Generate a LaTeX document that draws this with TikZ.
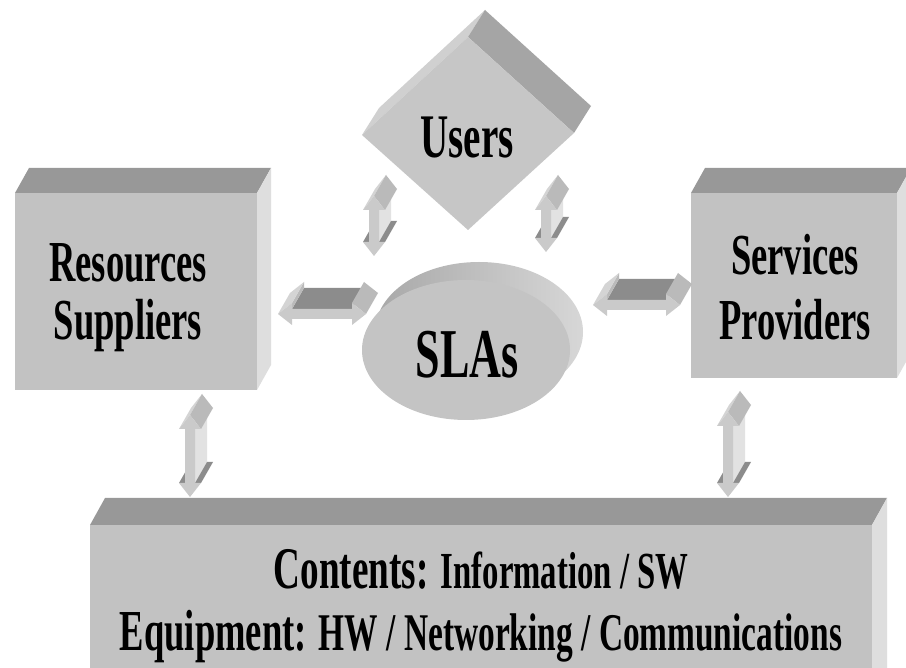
\documentclass[tikz,border=0pt]{standalone}
\usepackage{fontspec}
\newfontfamily\tnr[FakeStretch=0.63]{Liberation Serif}
\definecolor{boxfront}{RGB}{194,194,194}
\definecolor{boxtop}{RGB}{152,152,152}
\definecolor{boxside}{RGB}{222,222,222}
\definecolor{diafront}{RGB}{198,198,198}
\definecolor{diaside}{RGB}{165,165,165}
\definecolor{diatop}{RGB}{208,208,208}
\definecolor{ellfront}{RGB}{196,196,196}
\definecolor{rimL}{RGB}{168,168,168}
\definecolor{rimR}{RGB}{215,215,215}
\definecolor{arrfront}{RGB}{202,202,202}
\definecolor{arrlight}{RGB}{226,226,226}
\definecolor{arrhead}{RGB}{186,186,186}
\definecolor{arrheadL}{RGB}{212,212,212}
\definecolor{arrdark}{RGB}{140,140,140}
\tikzset{
  lab/.style={inner sep=0pt, anchor=base, text=black},
  big/.style={lab, font=\tnr\bfseries\fontsize{58}{60}\selectfont},
  pics/varrow/.style={code={
    \fill[arrdark] (-11,#1-14) -- (-5,#1-14) -- (7,#1-35) -- (1,#1-35) -- cycle;
    \fill[arrlight] (5,14) -- (5,#1-14) -- (17,#1-35) -- (17,-7) -- cycle;
    \fill[arrdark] (5,#1-14) -- (11,#1-14) -- (23,#1-35) -- (17,#1-35) -- cycle;
    \fill[arrheadL] (-11,14) -- (0,0) -- (12,-21) -- (1,-7) -- cycle;
    \fill[arrhead] (0,0) -- (11,14) -- (23,-7) -- (12,-21) -- cycle;
    \fill[arrfront] (0,0) -- (11,14) -- (5,14) -- (5,#1-14) -- (11,#1-14) -- (0,#1)
      -- (-11,#1-14) -- (-5,#1-14) -- (-5,14) -- (-11,14) -- cycle;
  }},
  pics/harrow/.style={code={
    \fill[arrdark] (14,-5) -- (#1-14,-5) -- (#1-2,-26) -- (26,-26) -- cycle;
    \fill[arrhead] (14,-11) -- (14,-5) -- (26,-26) -- (26,-32) -- cycle;
    \fill[arrheadL] (0,0) -- (14,-11) -- (26,-32) -- (12,-21) -- cycle;
    \fill[arrhead] (#1-14,-11) -- (#1,0) -- (#1+12,-21) -- (#1-2,-32) -- cycle;
    \fill[arrfront] (0,0) -- (14,-11) -- (14,-5) -- (#1-14,-5) -- (#1-14,-11) -- (#1,0)
      -- (#1-14,11) -- (#1-14,5) -- (14,5) -- (14,11) -- cycle;
  }},
}
\begin{document}
\begin{tikzpicture}[x=1pt,y=-1pt]
\clip (0,0) rectangle (906,668);
\fill[white] (0,0) rectangle (906,668);

% Resources Suppliers box
\fill[boxtop] (15,193) -- (257,193) -- (271,168) -- (29,168) -- cycle;
\fill[boxside] (257,193) -- (271,168) -- (271,365) -- (257,390) -- cycle;
\fill[boxfront] (15,193) rectangle (257,390);
\node[big] (res1) at (128,282) {Resources};
\node[big] (res2) at (128,340) {Suppliers};

% Services Providers box
\fill[boxtop] (691,193) -- (897,193) -- (911,168) -- (705,168) -- cycle;
\fill[boxside] (897,193) -- (911,168) -- (911,353) -- (897,378) -- cycle;
\fill[boxfront] (691,193) rectangle (897,378);
\node[big] (srv1) at (795,275) {Services};
\node[big] (srv2) at (795,340) {Providers};

% Bottom box
\fill[boxtop] (90,525) -- (872,525) -- (887,498) -- (105,498) -- cycle;
\fill[boxside] (872,525) -- (887,498) -- (887,700) -- (872,700) -- cycle;
\fill[boxfront] (90,525) rectangle (872,700);
\node[lab] (cont) at (481,588) {{\tnr\bfseries\fontsize{59}{60}\selectfont Contents: }{\tnr\bfseries\fontsize{52}{60}\selectfont Information / SW}};
\node[lab] (equip) at (481,650) {{\tnr\bfseries\fontsize{58}{60}\selectfont Equipment: }{\tnr\bfseries\fontsize{53}{60}\selectfont HW / Networking / Communications}};

% Users diamond
\fill[diatop] (362,135) -- (468,37) -- (485,10) -- (379,108) -- cycle;
\fill[diaside] (468,37) -- (485,10) -- (591,106) -- (574,133) -- cycle;
\fill[diafront] (468,37) -- (574,133) -- (468,230) -- (362,135) -- cycle;
\node[lab, font=\tnr\bfseries\fontsize{62}{64}\selectfont] (users) at (467,158) {Users};

% SLAs ellipse
\shade[left color=rimL, right color=rimR] (479,332) ellipse [x radius=104, y radius=70];
\fill[ellfront] (466,350) ellipse [x radius=104, y radius=70];
\node[lab, font=\tnr\bfseries\fontsize{70}{72}\selectfont] (slas) at (467,378) {SLAs};

% 3D double arrows
\coordinate (a1) at (374,196);
\coordinate (a2) at (546,196);
\coordinate (a3) at (278,314);
\coordinate (a4) at (593,305);
\coordinate (a5) at (190,415);
\coordinate (a6) at (728,412);
\pic at (a1) {varrow=60};
\pic at (a2) {varrow=56};
\pic at (a3) {harrow=88};
\pic at (a4) {harrow=87};
\pic at (a5) {varrow=82};
\pic at (a6) {varrow=85};
\end{tikzpicture}
\end{document}
